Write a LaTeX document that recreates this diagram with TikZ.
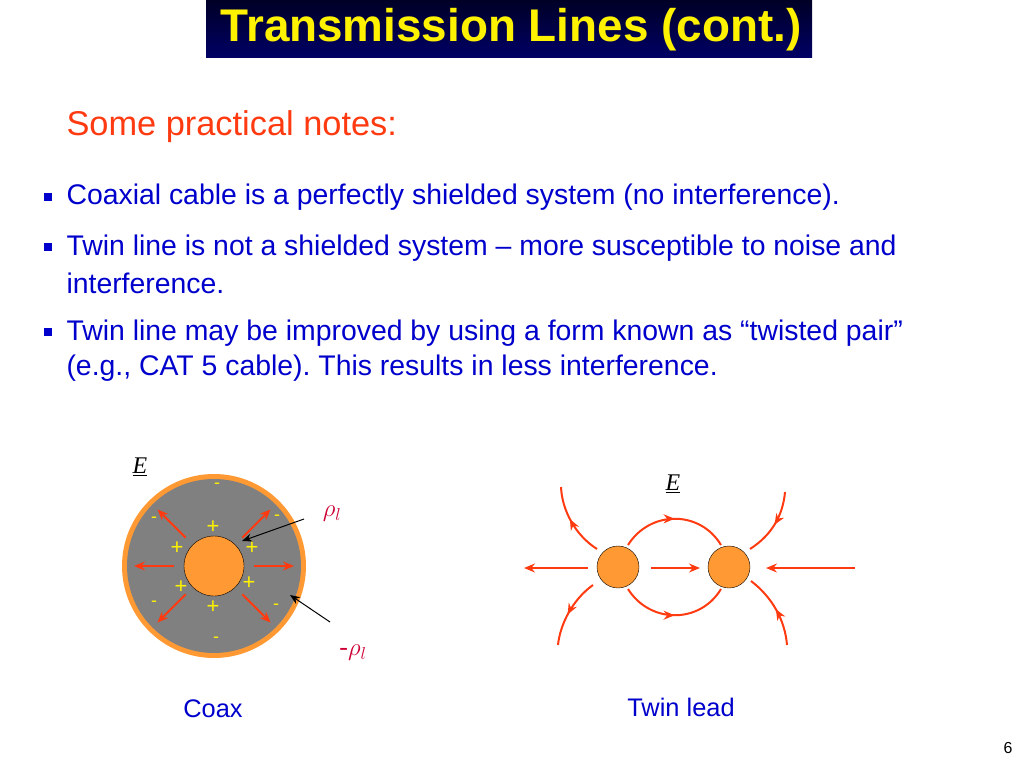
\documentclass[tikz,border=0pt]{standalone}
\usepackage{fontspec}
\setmainfont{Liberation Serif}
\newfontfamily\arial{Liberation Sans}
\usetikzlibrary{arrows.meta,decorations.markings}
\frenchspacing
\definecolor{fl}{HTML}{FF3A10}
\definecolor{tb}{HTML}{0000CC}
\definecolor{org}{HTML}{FF9933}
\tikzset{
 fld/.style={draw=fl,line width=2pt,-{Stealth[length=11pt,width=9pt]}},
 midarr/.style={draw=fl,line width=2pt,decoration={markings,mark=at position #1 with {\arrow{Stealth[length=11pt,width=9pt]}}},postaction={decorate}},
 pl/.style={text=yellow,font=\arial\fontsize{22}{22}\selectfont},
 mn/.style={text=yellow,font=\arial\fontsize{18}{18}\selectfont},
 bul/.style={anchor=west,text=tb,font=\arial\fontsize{28.5}{32}\selectfont},
 sq/.style={fill=tb,minimum size=8pt,inner sep=0pt},
 cond/.style={circle,draw=black,fill=org,minimum size=42bp,inner sep=0pt},
}
\begin{document}
\begin{tikzpicture}[x=1bp,y=-1bp]
\useasboundingbox (0,0) rectangle (1024,768);
\shade[top color=black!85!blue,bottom color=blue!40!black] (206,0) rectangle (812,58);
\node (title) at (511,30) {\arial\bfseries\fontsize{46}{46}\selectfont\textcolor{yellow}{Transmission Lines (cont.)}};
\node[anchor=west,text=fl,font=\arial\fontsize{34.5}{36}\selectfont] (sub) at (63,127) {Some practical notes:};
\node[sq] (b1) at (48,197) {};
\node[bul] (t1) at (63,197) {Coaxial cable is a perfectly shielded system (no interference).};
\node[sq] (b2) at (48,247) {};
\node[bul] (t2) at (63,248) {Twin line is not a shielded system – more susceptible to noise and};
\node[bul] (t2b) at (63,283) {interference.};
\node[sq] (b3) at (48,332) {};
\node[bul] (t3) at (63,333) {Twin line may be improved by using a form known as “twisted pair”};
\node[bul] (t3b) at (63,368) {(e.g., CAT 5 cable). This results in less interference.};
% coax
\fill[org] (214,566) circle (92);
\fill[gray] (214,566) circle (87);
\node[circle,draw=black,fill=org,minimum size=60bp,inner sep=0pt] (core) at (214,566) {};
\foreach \a in {0,45,135,180,225,315}
  \draw[fld] (214,566) ++(\a:40) -- ++(\a:40);
\foreach \p in {(213,527),(177,548),(252,548),(181,587),(249,583),(213,607)} \node[pl] at \p {+};
\foreach \p in {(217,486),(154,520),(277,518),(154,604),(276,607),(216,640)} \node[mn] at \p {-};
\node (E1) at (140,467) {\fontsize{24}{24}\selectfont\underline{\textit{E}}};
\node[text=red!80!blue,font=\fontsize{26}{26}\selectfont] (rho) at (332,514) {$\rho_l$};
\node[text=red!80!blue,font=\fontsize{26}{26}\selectfont] (mrho) at (353,653) {-$\rho_l$};
\coordinate (r1s) at (304,519); \coordinate (r1e) at (242,541);
\coordinate (r2s) at (330,622); \coordinate (r2e) at (290,595);
\draw[-{Stealth[length=10pt,width=8pt]},line width=1pt] (r1s) -- (r1e);
\draw[-{Stealth[length=10pt,width=8pt]},line width=1pt] (r2s) -- (r2e);
\node[text=tb,font=\arial\fontsize{25.5}{26}\selectfont] (coax) at (213,709) {Coax};
% twin
\node[cond] (c1) at (618,567) {};
\node[cond] (c2) at (729,567) {};
\node (E2) at (673,484) {\fontsize{24}{24}\selectfont\underline{\textit{E}}};
\coordinate (l1) at (588,568); \coordinate (l2) at (524,568);
\coordinate (m1) at (651,568); \coordinate (m2) at (700,568);
\coordinate (r1) at (855,568); \coordinate (r2) at (766,568);
\draw[fld] (l1) -- (l2);
\draw[fld] (m1) -- (m2);
\draw[fld] (r1) -- (r2);
\draw[midarr=0.5] (628,545) .. controls (650,510) and (700,510) .. (721,545);
\draw[midarr=0.5] (628,589) .. controls (650,624) and (700,624) .. (721,589);
\draw[midarr=0.55] (597,549) .. controls (575,535) and (562,510) .. (561,487);
\draw[midarr=0.55] (593,585) .. controls (572,600) and (560,625) .. (558,645);
\draw[midarr=0.5] (785,492) .. controls (783,515) and (772,535) .. (750,549);
\draw[midarr=0.5] (787,645) .. controls (785,620) and (772,597) .. (751,581);
\node[text=tb,font=\arial\fontsize{25.5}{26}\selectfont] (twin) at (681,707) {Twin lead};
\node[font=\arial\fontsize{16}{16}\selectfont] (pg) at (1008,748) {6};
\end{tikzpicture}
\end{document}
